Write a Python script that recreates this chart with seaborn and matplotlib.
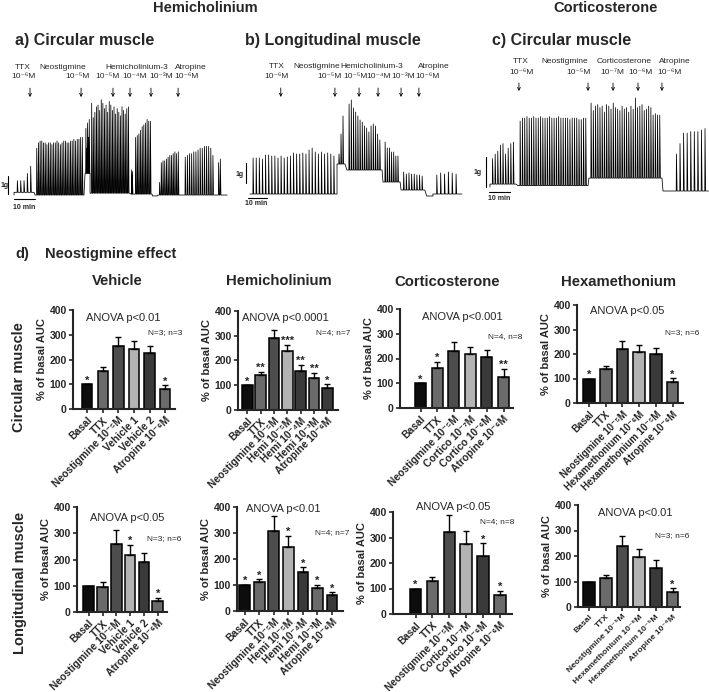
import numpy as np
import matplotlib
matplotlib.use('Agg')
import matplotlib.pyplot as plt
import seaborn as sns

sns.set_style('ticks')
plt.rcParams['font.family'] = ['Liberation Sans', 'DejaVu Sans']
plt.rcParams['axes.unicode_minus'] = False

# ---------------- data: bar charts (% of basal AUC) ----------------
labels_vehicle = ['Basal', 'TTX', 'Neostigmine 10⁻⁵M', 'Vehicle 1', 'Vehicle 2', 'Atropine 10⁻⁶M']
labels_hemi = ['Basal', 'TTX', 'Neostigmine 10⁻⁵M', 'Hemi 10⁻⁵M', 'Hemi 10⁻⁴M', 'Hemi 10⁻³M', 'Atropine 10⁻⁶M']
labels_cortico = ['Basal', 'TTX', 'Neostigmine 10⁻⁵M', 'Cortico 10⁻⁷M', 'Cortico 10⁻⁶M', 'Atropine 10⁻⁶M']
labels_hexa = ['Basal', 'TTX', 'Neostigmine 10⁻⁵M', 'Hexamethonium 10⁻⁶M', 'Hexamethonium 10⁻⁵M', 'Atropine 10⁻⁶M']

circ_vehicle_mean = [100, 152, 255, 244, 227, 80]
circ_vehicle_sem = [0, 19, 37, 32, 28, 16]
circ_vehicle_stars = ['*', '', '', '', '', '*']

circ_hemi_mean = [100, 140, 292, 240, 159, 130, 88]
circ_hemi_sem = [0, 14, 31, 23, 23, 21, 16]
circ_hemi_stars = ['*', '**', '', '***', '**', '**', '*']

circ_cortico_mean = [100, 160, 231, 217, 205, 126]
circ_cortico_sem = [0, 27, 34, 31, 29, 32]
circ_cortico_stars = ['*', '*', '', '', '', '**']

circ_hexa_mean = [100, 139, 220, 209, 199, 87]
circ_hexa_sem = [0, 13, 32, 28, 24, 14]
circ_hexa_stars = ['*', '', '', '', '', '*']

long_vehicle_mean = [100, 96, 259, 217, 189, 42]
long_vehicle_sem = [0, 17, 52, 38, 37, 12]
long_vehicle_stars = ['', '', '', '*', '', '*']

long_hemi_mean = [100, 110, 309, 245, 151, 87, 62]
long_hemi_sem = [0, 12, 56, 43, 17, 13, 10]
long_hemi_stars = ['*', '*', '', '*', '*', '*', '*']

long_cortico_mean = [100, 129, 323, 273, 229, 75]
long_cortico_sem = [0, 17, 65, 54, 48, 15]
long_cortico_stars = ['*', '', '', '', '*', '*']

long_hexa_mean = [100, 115, 239, 197, 152, 60]
long_hexa_sem = [0, 11, 39, 29, 32, 13]
long_hexa_stars = ['', '', '', '', '', '*']

grays6 = ['#0d0d0d', '#6b6b6b', '#4d4d4d', '#b3b3b3', '#3a3a3a', '#6b6b6b']
grays7 = ['#0d0d0d', '#6b6b6b', '#4d4d4d', '#b3b3b3', '#3a3a3a', '#6b6b6b', '#3a3a3a']

# ---------------- data: contraction traces (time in min, tension in g) ----------------
trace_a_spans = [(0.5, 10), (10.5, 33.8), (34.3, 36.7), (36.7, 55.7), (56.2, 57.1),
                 (57.6, 66.2), (66.4, 68.8), (69, 79.5), (81, 96.2), (97.1, 99.5)]
trace_a_floors = [0.15, 0.0, 1.2, 0.1, 0.05, 0.05, -0.05, 0.0, 0.0, 0.0]
trace_a_peaks = [
    [0.8, 0.8, 0.8, 1.2, 1.6],
    [2.6, 2.9, 3.0, 3.0, 2.9, 2.9, 2.8, 2.9, 2.9, 2.8, 2.9, 2.9, 3.0, 2.9, 2.8, 2.9, 3.0, 3.0,
     2.9, 2.9, 3.0, 3.0, 3.1, 3.0, 3.1, 3.1, 3.2, 3.2],
    [3.7, 2.6, 4.0, 3.2, 4.2],
    [5.1, 4.3, 4.6, 4.9, 5.0, 4.7, 5.3, 5.1, 4.8, 5.0, 4.6, 5.2, 5.0, 4.7, 4.9, 4.5, 4.8, 4.6,
     4.4, 4.9, 4.7, 4.5, 4.8, 4.9],
    [1.4, 1.3],
    [3.2, 3.3, 3.4, 3.6, 3.8, 3.9, 4.0, 4.2, 4.1, 4.1],
    [],
    [0.7, 1.8, 1.9, 1.9, 2.0, 2.1, 2.2, 2.2, 2.3, 2.4, 2.3, 2.4],
    [2.1, 2.2, 2.3, 2.3, 2.4, 2.4, 2.5, 2.6, 2.6, 2.7, 2.7, 2.7, 2.6, 2.2],
    [1.8, 2.0],
]
trace_a_end = 102

trace_b_spans = [(0, 45.8), (45.8, 50), (51, 69.5), (70, 79), (79.5, 92), (93, 96.3), (96.3, 110.5)]
trace_b_floors = [0.0, 1.5, 1.2, 0.6, 0.2, -0.1, 0.0]
trace_b_peaks = [
    [1.8, 1.8, 1.8, 1.75, 1.95, 1.95, 1.9, 1.9, 1.8, 1.9, 1.8, 1.85, 1.9, 2.05, 2.0, 2.0, 2.05,
     2.0, 2.2, 2.3, 2.1, 2.0, 2.1, 2.0, 2.05, 2.0, 1.9],
    [2.0, 3.0, 3.9],
    [4.5, 4.7, 4.3, 4.1, 3.9, 3.7, 3.6, 3.4, 3.3, 3.1, 3.4, 3.5, 3.4, 3.0, 2.7],
    [2.6, 2.3, 2.3, 2.1, 2.1, 1.9, 1.9],
    [1.1, 1.0, 1.05, 1.0, 1.0, 0.95, 0.95, 0.9],
    [],
    [0.95, 1.05, 1.0, 1.1, 1.05, 1.0],
]
trace_b_end = 111.6

trace_c_spans = [(1.9, 14.3), (15.2, 48.6), (49, 83.8), (84.3, 89), (89, 106)]
trace_c_floors = [0.1, 0.05, 0.3, -0.13, -0.13]
trace_c_peaks = [
    [0.95, 1.1, 1.2, 1.4, 1.45, 1.1, 1.3, 1.45, 1.5],
    [2.2, 2.3, 2.3, 2.35, 2.3, 2.3, 2.35, 2.3, 2.3, 2.35, 2.3, 2.3, 2.3, 2.35, 2.3, 2.3, 2.3,
     2.35, 2.3, 2.3, 2.3, 2.3, 2.25, 2.3, 2.3, 2.3, 2.25, 2.25, 2.3, 2.3],
    [2.8, 2.55, 2.7, 2.75, 2.65, 2.7, 2.5, 2.75, 2.7, 2.6, 2.8, 2.65, 2.6, 2.55, 2.7, 2.6,
     2.65, 2.5, 2.7, 2.6, 2.97, 2.65, 2.7, 2.75, 2.55, 2.6, 2.7, 2.65, 2.4, 2.45, 2.4, 2.4],
    [],
    [1.1, 1.45, 1.8, 1.8, 1.85, 1.85, 1.85, 1.9, 1.95],
]
trace_c_end = 106

# drug additions (min)
trace_a_arrows = [8.1, 32.4, 47.6, 55.7, 65.7, 78.6]
trace_b_arrows = [16.2, 44.7, 57.4, 67.4, 79.5, 88.9]
trace_c_arrows = [15.7, 48.6, 60.5, 72.4, 83.8]
trace_a_row1 = [('TTX', 4.8), ('Neostigmine', 23.7), ('Hemicholinium-3', 58.9), ('Atropine', 84.8)]
trace_a_row2 = [('10⁻⁶M', 4.8), ('10⁻⁵M', 30.5), ('10⁻⁵M', 45.2), ('10⁻⁴M', 57.9), ('10⁻³M', 70.8), ('10⁻⁶M', 82.4)]
trace_b_row1 = [('TTX', 14.1), ('Neostigmine', 35.3), ('Hemicholinium-3', 64.2), ('Atropine', 96.8)]
trace_b_row2 = [('10⁻⁶M', 14.1), ('10⁻⁵M', 42.1), ('10⁻⁵M', 55.3), ('10⁻⁴M', 67.6), ('10⁻³M', 80.5), ('10⁻⁶M', 93.2)]
trace_c_row1 = [('TTX', 16.4), ('Neostigmine', 37.6), ('Corticosterone', 66.0), ('Atropine', 90.0)]
trace_c_row2 = [('10⁻⁶M', 17.1), ('10⁻⁵M', 44.3), ('10⁻⁷M', 60.0), ('10⁻⁶M', 73.8), ('10⁻⁶M', 87.6)]

# ---------------- figure ----------------
W, H = 709, 692
fig = plt.figure(figsize=(W / 100, H / 100), dpi=100)


def px_axes(left, top, right, bottom):
    return fig.add_axes([left / W, 1 - bottom / H, (right - left) / W, (bottom - top) / H])


def ftext(x, y, s, **kw):
    kw.setdefault('va', 'center')
    fig.text(x / W, 1 - y / H, s, **kw)


def trace_xy(spans, peaks, floors, t_end):
    xs, ys = [spans[0][0]], [0.0]
    for (t0, t1), pk, fl in zip(spans, peaks, floors):
        xs.append(t0)
        ys.append(fl)
        ts = np.linspace(t0, t1, len(pk) + 2)[1:-1]
        for t, p in zip(ts, pk):
            xs += [t - 0.12, t, t + 0.3]
            ys += [fl, p, fl]
        xs.append(t1)
        ys.append(fl)
    xs.append(t_end)
    ys.append(ys[-1])
    return np.array(xs), np.array(ys)


def draw_trace(box, xlim, ylim, spans, peaks, floors, t_end, arrows, row1, row2,
               y_rows, y_arrow, gbar, tbar):
    ax = px_axes(*box)
    xs, ys = trace_xy(spans, peaks, floors, t_end)
    sns.lineplot(x=xs, y=ys, sort=False, estimator=None, color='black', linewidth=0.55, ax=ax)
    for t in arrows:
        ax.annotate('', xy=(t, y_arrow[1]), xytext=(t, y_arrow[0]),
                    arrowprops=dict(arrowstyle='->', lw=0.6, color='black', mutation_scale=5,
                                    shrinkA=0, shrinkB=0))
    for s, t in row1:
        ax.text(t, y_rows[0], s, ha='center', va='center', fontsize=6)
    for s, t in row2:
        ax.text(t, y_rows[1], s, ha='center', va='center', fontsize=6)
    # 1 g scale bar
    gx, g0, glx, gly = gbar
    ax.plot([gx, gx], [g0, g0 + 1], color='black', lw=0.8)
    ax.text(glx, gly, '1g', ha='center', va='center', fontsize=5, fontweight='bold')
    # 10 min scale bar
    tx0, ty, tlx, tly = tbar
    ax.plot([tx0, tx0 + 10], [ty, ty], color='black', lw=0.8)
    ax.text(tlx, tly, '10 min', ha='center', va='center', fontsize=5, fontweight='bold')
    ax.set_xlim(*xlim)
    ax.set_ylim(*ylim)
    ax.axis('off')
    return ax


# trace a: px = 13 + 2.1 t ; py = 195 - 18 g
draw_trace((0, 55, 235, 215), (-6.19, 105.7), (-1.11, 7.78),
           trace_a_spans, trace_a_peaks, trace_a_floors, trace_a_end,
           trace_a_arrows, trace_a_row1, trace_a_row2, (7.1, 6.56), (5.94, 5.44),
           (-2.4, 0.05, -4.0, 0.55), (0.5, -0.22, 5.2, -0.67))
# trace b: px = 250 + 1.9 t ; py = 194 - 20 g
draw_trace((236, 55, 470, 215), (-7.37, 115.8), (-1.05, 6.95),
           trace_b_spans, trace_b_peaks, trace_b_floors, trace_b_end,
           trace_b_arrows, trace_b_row1, trace_b_row2, (6.35, 5.85), (5.3, 4.85),
           (-2.1, 0.55, -5.3, 1.0), (-1.0, -0.2, 3.2, -0.48))
# trace c: px = 486 + 2.1 t ; py = 187 - 30 g
draw_trace((470, 50, 709, 215), (-7.6, 106.2), (-0.93, 4.57),
           trace_c_spans, trace_c_peaks, trace_c_floors, trace_c_end,
           trace_c_arrows, trace_c_row1, trace_c_row2, (4.2, 3.83), (3.47, 3.2),
           (0.0, 0.0, -3.8, 0.5), (1.4, -0.17, 6.2, -0.37))

# top titles
ftext(205, 8, 'Hemicholinium', ha='center', fontsize=10.5, fontweight='bold')
ftext(606, 8, 'Corticosterone', ha='center', fontsize=10.5, fontweight='bold')
ftext(15, 40, 'a) Circular muscle', ha='left', fontsize=11.5, fontweight='bold')
ftext(245, 40, 'b) Longitudinal muscle', ha='left', fontsize=11.5, fontweight='bold')
ftext(492, 40, 'c) Circular muscle', ha='left', fontsize=11.5, fontweight='bold')

# section d titles
ftext(15, 254, 'd)', ha='left', fontsize=10.5, fontweight='bold')
ftext(45, 254, 'Neostigmine effect', ha='left', fontsize=10.5, fontweight='bold')
ftext(117, 281, 'Vehicle', ha='center', fontsize=10.7, fontweight='bold')
ftext(279, 281, 'Hemicholinium', ha='center', fontsize=10.7, fontweight='bold')
ftext(447, 282, 'Corticosterone', ha='center', fontsize=10.7, fontweight='bold')
ftext(619, 282, 'Hexamethonium', ha='center', fontsize=10.7, fontweight='bold')
ftext(19, 377, 'Circular muscle', ha='center', rotation=90, fontsize=10.5, fontweight='bold')
ftext(20, 583, 'Longitudinal muscle', ha='center', rotation=90, fontsize=10.5, fontweight='bold')

panels = [
    (labels_vehicle, circ_vehicle_mean, circ_vehicle_sem, circ_vehicle_stars, grays6,
     (73, 310, 175, 409), 87.2, 15.6, 0.67, 'ANOVA p<0.01', (123, 318), 'N=3; n=3', (148, 333), 7.4),
    (labels_hemi, circ_hemi_mean, circ_hemi_sem, circ_hemi_stars, grays7,
     (238, 311, 338, 410), 247.5, 13.3, 0.8, 'ANOVA p<0.0001', (285, 318), 'N=4; n=7', (316, 333), 7.4),
    (labels_cortico, circ_cortico_mean, circ_cortico_sem, circ_cortico_stars, grays6,
     (400, 309, 513, 408), 420.5, 16.6, 0.66, 'ANOVA p<0.001', (462, 317), 'N=4, n=8', (488, 337), 7.4),
    (labels_hexa, circ_hexa_mean, circ_hexa_sem, circ_hexa_stars, grays6,
     (577, 305, 683, 403), 589, 16.7, 0.7, 'ANOVA p<0.05', (627, 311), 'N=3; n=6', (665, 333), 7.0),
    (labels_vehicle, long_vehicle_mean, long_vehicle_sem, long_vehicle_stars, grays6,
     (77, 507, 167, 612), 88.7, 13.8, 0.76, 'ANOVA p<0.05', (127, 518), 'N=3; n=6', (147, 539), 7.4),
    (labels_hemi, long_hemi_mean, long_hemi_sem, long_hemi_stars, grays7,
     (237, 507, 343, 611), 244.7, 14.55, 0.73, 'ANOVA p<0.01', (283, 509), 'N=4; n=7', (315, 533), 7.4),
    (labels_cortico, long_cortico_mean, long_cortico_sem, long_cortico_stars, grays6,
     (393, 512, 512, 614), 415.5, 16.9, 0.68, 'ANOVA p<0.05', (453, 507), 'N=4; n=8', (480, 522), 7.2),
    (labels_hexa, long_hexa_mean, long_hexa_sem, long_hexa_stars, grays6,
     (578, 505, 680, 607), 589, 16.7, 0.7, 'ANOVA p<0.01', (635, 513), 'N=3; n=6', (655, 536), 6.1),
]

for (labels, mean, sem, stars, cols, box, c0, sp, bw, anova, apos, ntxt, npos, tfs) in panels:
    ax = px_axes(*box)
    n = len(labels)
    sns.barplot(x=labels, y=mean, hue=labels, palette=cols, legend=False, errorbar=None,
                edgecolor='black', linewidth=1.1, width=bw, saturation=1, ax=ax)
    xs = np.arange(n)
    ax.errorbar(xs, mean, yerr=[np.zeros(n), sem], fmt='none', ecolor='black',
                elinewidth=1.0, capsize=2.2, capthick=1.0, zorder=3)
    for i in range(n):
        if stars[i]:
            ax.text(i, mean[i] + sem[i] + 3, stars[i], ha='center', va='baseline',
                    fontsize=8, fontweight='bold')
    ax.set_ylim(0, 400)
    ax.set_xlim((box[0] - c0) / sp, (box[2] - c0) / sp)
    ax.set_yticks([0, 100, 200, 300, 400])
    ax.set_yticklabels(['0', '100', '200', '300', '400'], fontsize=7.5, fontweight='bold')
    ax.set_xticks(xs)
    ax.set_xticklabels(labels, rotation=45, ha='right', rotation_mode='anchor',
                       fontsize=tfs, fontweight='bold')
    ax.tick_params(axis='both', length=3, width=1.2, pad=1.5)
    ax.set_xlabel('')
    ax.set_ylabel('% of basal AUC', fontsize=8, fontweight='bold', labelpad=2)
    for side in ['left', 'bottom']:
        ax.spines[side].set_linewidth(1.5)
    sns.despine(ax=ax)
    ftext(apos[0], apos[1], anova, ha='center', fontsize=8)
    ftext(npos[0], npos[1], ntxt, ha='left', fontsize=6)

plt.savefig('out.png', dpi=100)
